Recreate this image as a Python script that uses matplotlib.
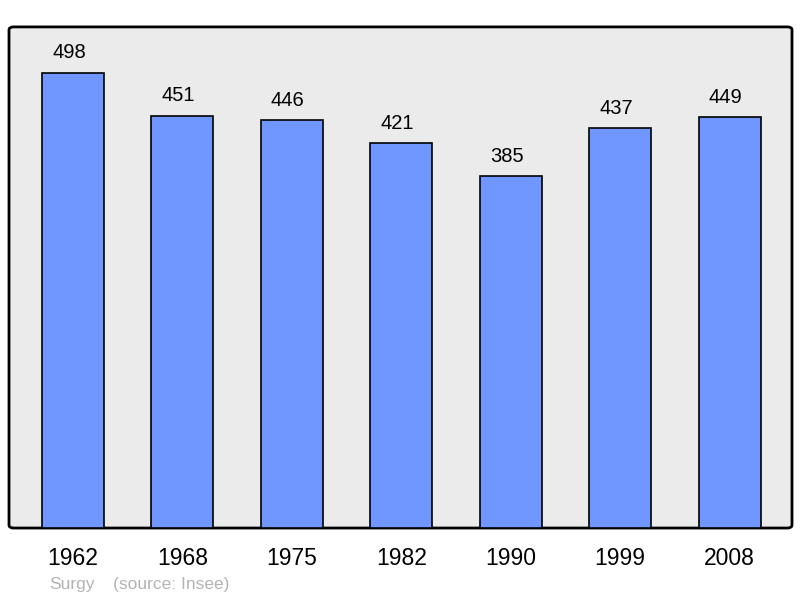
import matplotlib
matplotlib.use("Agg")
import matplotlib.pyplot as plt
from matplotlib.patches import FancyBboxPatch

years = ["1962", "1968", "1975", "1982", "1990", "1999", "2008"]
population = [498, 451, 446, 421, 385, 437, 449]

plt.rcParams['font.family'] = ['Liberation Sans', 'DejaVu Sans']

fig = plt.figure(figsize=(8, 5.98), dpi=100)
ax = fig.add_axes([0.01125, 0.117, 0.97875, 0.838])
ax.set_facecolor('none')
for s in ax.spines.values():
    s.set_visible(False)

frame = FancyBboxPatch((0, 0), 1, 1, boxstyle="round,pad=0,rounding_size=0.006",
                       transform=ax.transAxes, facecolor='#ebebeb', edgecolor='black',
                       linewidth=2, zorder=0, clip_on=False)
ax.add_patch(frame)

x = list(range(len(years)))
ax.bar(x, population, width=0.567, color='#7096ff', edgecolor='black', linewidth=1.2, zorder=2)
for xi, v in zip(x, population):
    ax.annotate(str(v), (xi, v), xytext=(-2.9, 14.3), textcoords='offset points',
                ha='center', va='center', fontsize=14.5, color='black')

ax.set_xlim(-0.585, 6.57)
ax.set_ylim(0, 548)
ax.set_yticks([])
ax.set_xticks(x)
ax.set_xticklabels(years, fontsize=16.5)
ax.tick_params(axis='x', length=0, pad=13.5)

fig.text(49/800, 1 - 584/598, "Surgy", fontsize=12.5, color='#b4b4b4', va='center', ha='left')
fig.text(113/800, 1 - 584/598, "(source: Insee)", fontsize=12.5, color='#b4b4b4', va='center', ha='left')

fig.savefig("out.png", dpi=100)
